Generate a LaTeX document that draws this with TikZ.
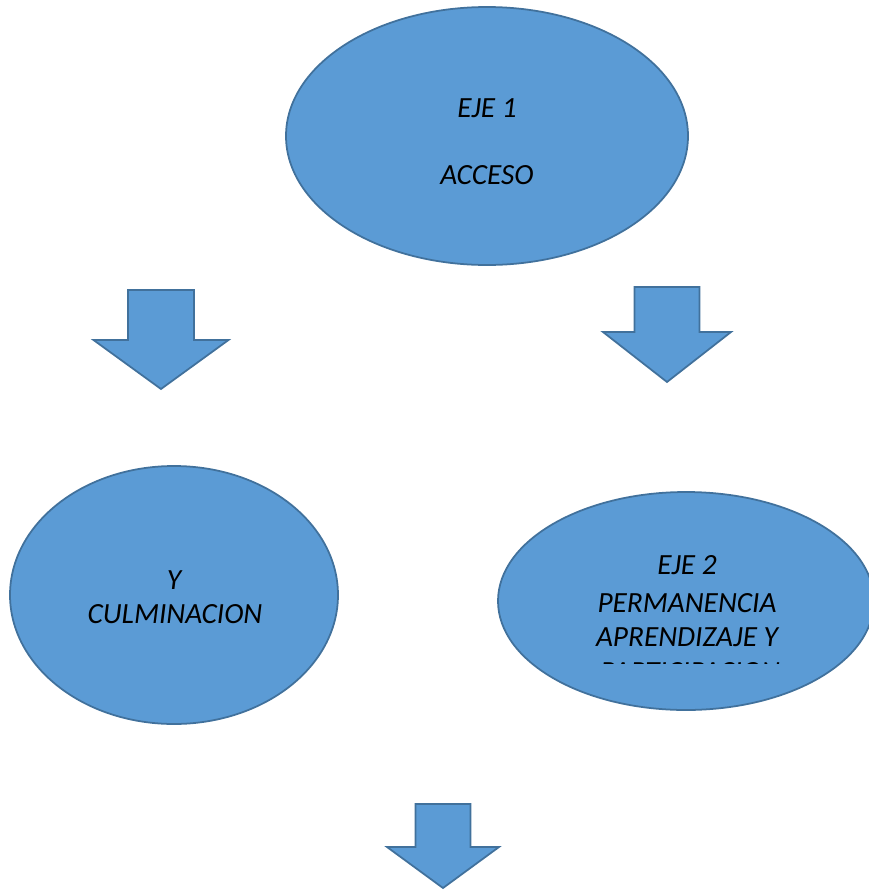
\documentclass[tikz,border=0pt]{standalone}
\usepackage{fontspec}
\setmainfont{Carlito}
\usetikzlibrary{shapes.geometric}
\definecolor{ejefill}{HTML}{5B9BD5}
\definecolor{ejeline}{HTML}{41719C}
\tikzset{
  eje/.style={ellipse, draw=ejeline, fill=ejefill, line width=1.5pt, inner sep=0pt},
  ejetext/.style={font=\fontsize{25}{30}\selectfont\itshape, inner sep=0pt},
  blockarrow/.style={draw=ejeline, fill=ejefill, line width=1.5pt, line join=miter}
}
\begin{document}
\begin{tikzpicture}[x=0.03cm, y=-0.03cm]
    \clip (0,0) rectangle (869,890);
    % ellipses
    \node[eje, minimum width=402*0.03cm, minimum height=258*0.03cm] (acceso) at (487,136) {};
    \node[eje, minimum width=328*0.03cm, minimum height=258*0.03cm] (culminacion) at (174,595) {};
    \node[eje, minimum width=376*0.03cm, minimum height=218*0.03cm] (permanencia) at (686,601) {};
    % texts
    \node[ejetext] (t1) at (487,108) {EJE 1};
    \node[ejetext] (t2) at (487,175) {ACCESO};
    \node[ejetext] (t3) at (174,580) {Y};
    \node[ejetext] (t4) at (175,614) {CULMINACION};
    \node[ejetext] (t5) at (687,565) {EJE 2};
    \node[ejetext] (t6) at (687,603) {PERMANENCIA};
    \node[ejetext] (t7) at (687,637) {APRENDIZAJE Y};
    \begin{scope}
        \clip (580,650) rectangle (800,663.5);
        \node[ejetext] (t8) at (690,672) {PARTICIPACION};
    \end{scope}
    % block arrows
    \foreach \cx/\top/\neck/\tip/\sw/\hw in {161/290/340/389/33/67.5, 667/287/332/382/32.5/64, 443/804/847/888/27.5/56}
        \draw[blockarrow] (\cx-\sw,\top) -- (\cx+\sw,\top) -- (\cx+\sw,\neck) -- (\cx+\hw,\neck)
            -- (\cx,\tip) -- (\cx-\hw,\neck) -- (\cx-\sw,\neck) -- cycle;
\end{tikzpicture}
\end{document}
